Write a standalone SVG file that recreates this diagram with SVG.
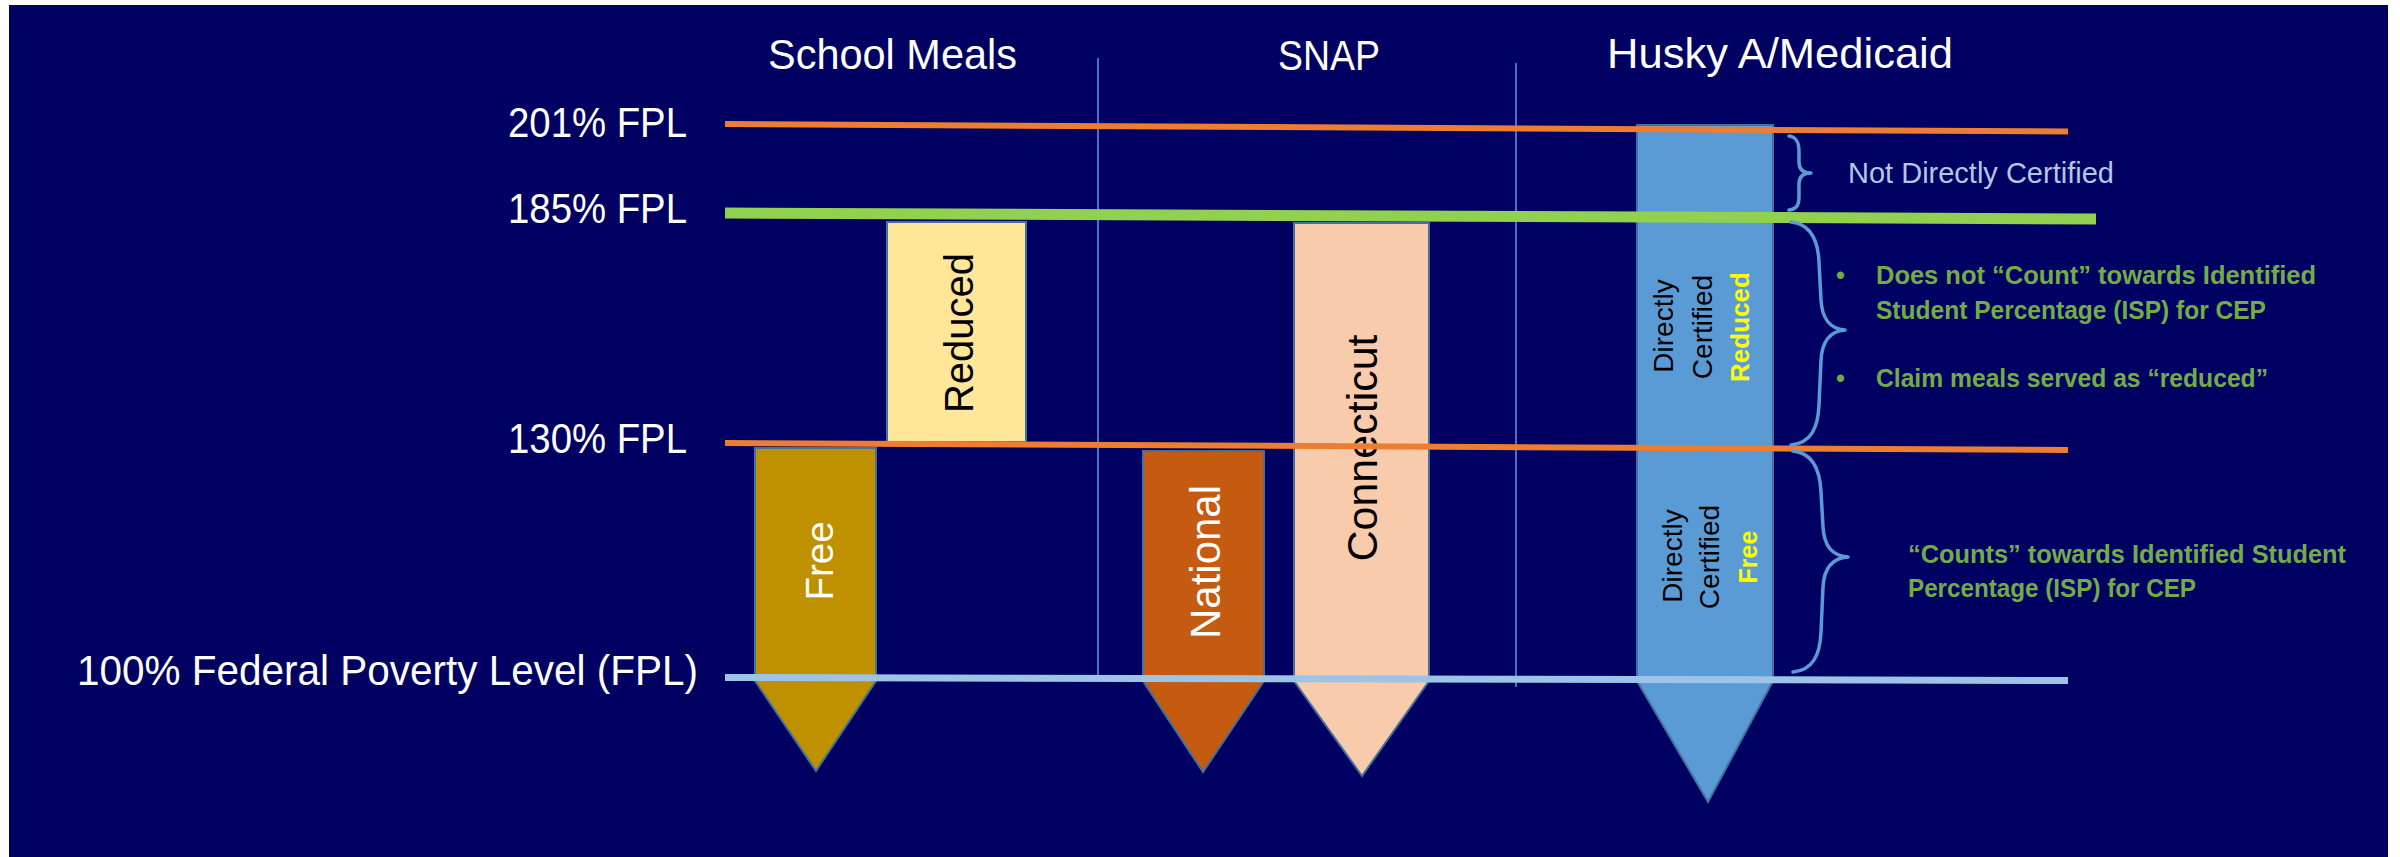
<svg xmlns="http://www.w3.org/2000/svg" width="2400" height="857" viewBox="0 0 2400 857">
  <style>
    .ttl { font-family: "Liberation Sans", Arial, sans-serif; font-size: 42px; fill: #ffffff; }
    .lvl { font-family: "Liberation Sans", Arial, sans-serif; font-size: 42px; fill: #ffffff; }
    .bar { stroke: #41719C; stroke-width: 2; }
    .vlab { font-family: "Liberation Sans", Arial, sans-serif; text-anchor: middle; }
    .hlab { font-family: "Liberation Sans", Arial, sans-serif; font-size: 28px; text-anchor: middle; fill: #000000; }
    .hyel { font-family: "Liberation Sans", Arial, sans-serif; font-weight: bold; text-anchor: middle; fill: #FFFF00; }
    .note { font-family: "Liberation Sans", Arial, sans-serif; font-weight: bold; font-size: 25.5px; fill: #70AD47; }
    .brace { fill: none; stroke: #5B9BD5; stroke-width: 3.5; stroke-linecap: round; stroke-linejoin: round; }
    .divider { stroke: #4472C4; stroke-width: 2; }
  </style>

  <!-- page and slide background -->
  <rect x="0" y="0" width="2400" height="857" fill="#ffffff"/>
  <rect x="9" y="5" width="2379" height="852" fill="#000062"/>

  <!-- column dividers -->
  <g id="dividers">
    <line class="divider" x1="1098" y1="58" x2="1098" y2="678"/>
    <line class="divider" x1="1516" y1="63" x2="1516" y2="687"/>
  </g>

  <!-- column headings -->
  <g id="title-school-meals"><text class="ttl" x="768" y="69" textLength="249" lengthAdjust="spacingAndGlyphs">School Meals</text></g>
  <g id="title-snap"><text class="ttl" x="1278" y="70" textLength="102" lengthAdjust="spacingAndGlyphs">SNAP</text></g>
  <g id="title-husky"><text class="ttl" x="1607" y="68" textLength="346" lengthAdjust="spacingAndGlyphs">Husky A/Medicaid</text></g>

  <!-- poverty level labels -->
  <g id="label-201"><text class="lvl" x="508" y="137" textLength="179" lengthAdjust="spacingAndGlyphs">201% FPL</text></g>
  <g id="label-185"><text class="lvl" x="508" y="223" textLength="179" lengthAdjust="spacingAndGlyphs">185% FPL</text></g>
  <g id="label-130"><text class="lvl" x="508" y="453" textLength="179" lengthAdjust="spacingAndGlyphs">130% FPL</text></g>
  <g id="label-100"><text class="lvl" x="77" y="685" textLength="621" lengthAdjust="spacingAndGlyphs">100% Federal Poverty Level (FPL)</text></g>

  <!-- School Meals: reduced -->
  <g id="sm-reduced">
    <rect class="bar" x="887" y="222" width="139" height="220" fill="#FFE699"/>
    <text class="vlab" transform="translate(973,333) rotate(-90)" font-size="40" fill="#000000">Reduced</text>
  </g>

  <!-- School Meals: free -->
  <g id="sm-free">
    <polygon class="bar" points="755,448 876,448 876,681 816,771 755,681" fill="#BF9000"/>
    <text class="vlab" transform="translate(833,561) rotate(-90)" font-size="38.5" fill="#ffffff">Free</text>
  </g>

  <!-- SNAP: national -->
  <g id="snap-national">
    <polygon class="bar" points="1143,451 1264,451 1264,681 1203,772 1143,681" fill="#C55A11"/>
    <text class="vlab" transform="translate(1220,562) rotate(-90)" font-size="42" fill="#ffffff">National</text>
  </g>

  <!-- SNAP: Connecticut -->
  <g id="snap-connecticut">
    <polygon class="bar" points="1294,223 1429,223 1429,681 1362,776 1294,681" fill="#F8CBAD"/>
    <text class="vlab" transform="translate(1377,448) rotate(-90)" font-size="43" fill="#000000">Connecticut</text>
  </g>

  <!-- Husky A / Medicaid -->
  <g id="husky">
    <polygon class="bar" points="1637,125 1773,125 1773,681 1708,802 1637,681" fill="#5B9BD5"/>
    <text class="hlab" transform="translate(1673,326) rotate(-90)">Directly</text>
    <text class="hlab" transform="translate(1712,327) rotate(-90)">Certified</text>
    <text class="hyel" transform="translate(1749,327) rotate(-90)" font-size="26">Reduced</text>
    <text class="hlab" transform="translate(1682,556) rotate(-90)">Directly</text>
    <text class="hlab" transform="translate(1719,557) rotate(-90)">Certified</text>
    <text class="hyel" transform="translate(1757,557) rotate(-90)" font-size="25">Free</text>
  </g>

  <!-- income level lines -->
  <g id="levels" stroke-linecap="butt">
    <line x1="725" y1="124" x2="2068" y2="131.5" stroke="#ED7D31" stroke-width="6"/>
    <line x1="725" y1="213" x2="2096" y2="219" stroke="#92D050" stroke-width="11"/>
    <line x1="725" y1="443" x2="2068" y2="450" stroke="#ED7D31" stroke-width="6"/>
    <line x1="725" y1="677.5" x2="2068" y2="680.5" stroke="#9DC3E6" stroke-width="7"/>
  </g>

  <!-- braces -->
  <g id="braces">
    <path class="brace" d="M1789,136 C1797,137 1799,143 1799,152 L1799,162 C1799,169 1803,173 1811,173 C1803,173 1799,177 1799,184 L1799,196 C1799,205 1797,209 1789,210"/>
    <path class="brace" d="M1791,222 C1811,224 1818,240 1819,262 L1821,300 C1822,318 1830,329 1845,330 C1830,331 1822,342 1821,360 L1819,405 C1818,428 1811,443 1791,445"/>
    <path class="brace" d="M1793,451 C1813,453 1820,470 1821,492 L1823,527 C1824,545 1832,556 1848,557 C1832,558 1824,569 1823,587 L1821,632 C1820,655 1813,670 1793,672"/>
  </g>

  <!-- annotations -->
  <g id="note-not-certified">
    <text x="1848" y="183" font-family="'Liberation Sans', Arial, sans-serif" font-size="29" fill="#B4C7E7">Not Directly Certified</text>
  </g>
  <g id="note-reduced">
    <text class="note" x="1836" y="284">•</text>
    <text class="note" x="1876" y="284" textLength="440" lengthAdjust="spacingAndGlyphs">Does not “Count” towards Identified</text>
    <text class="note" x="1876" y="319" textLength="390" lengthAdjust="spacingAndGlyphs">Student Percentage (ISP) for CEP</text>
    <text class="note" x="1836" y="387">•</text>
    <text class="note" x="1876" y="387" textLength="392" lengthAdjust="spacingAndGlyphs">Claim meals served as “reduced”</text>
  </g>
  <g id="note-free">
    <text class="note" x="1908" y="563" textLength="438" lengthAdjust="spacingAndGlyphs">“Counts” towards Identified Student</text>
    <text class="note" x="1908" y="597" textLength="288" lengthAdjust="spacingAndGlyphs">Percentage (ISP) for CEP</text>
  </g>
</svg>
